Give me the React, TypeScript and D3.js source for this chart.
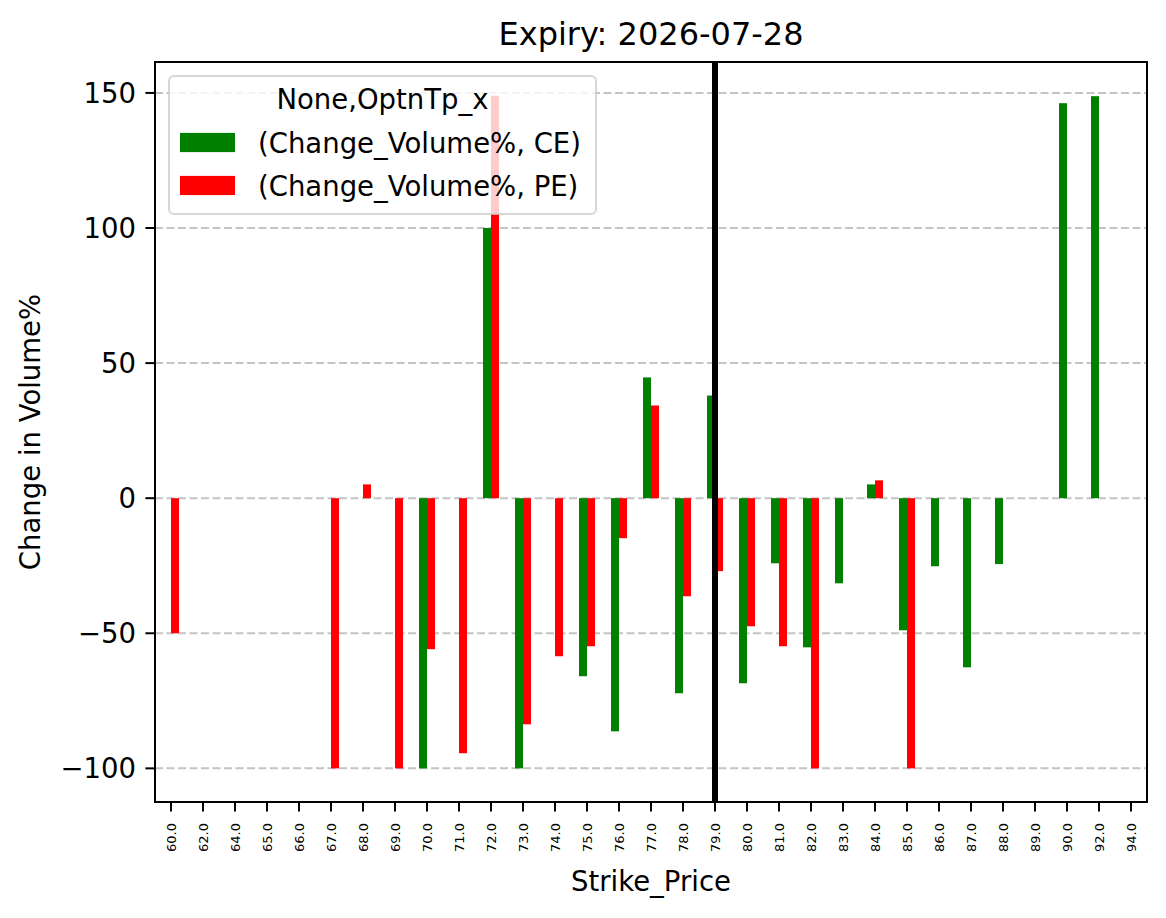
import * as d3 from "d3";
import React, { useEffect, useRef } from "react";

// strike prices shown on the x axis (categorical)
const strikes = [
  "60.0", "62.0", "64.0", "65.0", "66.0", "67.0", "68.0", "69.0", "70.0", "71.0",
  "72.0", "73.0", "74.0", "75.0", "76.0", "77.0", "78.0", "79.0", "80.0", "81.0",
  "82.0", "83.0", "84.0", "85.0", "86.0", "87.0", "88.0", "89.0", "90.0", "92.0", "94.0",
];

// Change_Volume% for calls (CE), null = no bar
const ceValues: (number | null)[] = [
  null, null, null, null, null, null, null, null, -100, null,
  100, -100, null, -65.9, -86.3, 44.7, -72.2, 38.0, -68.5, -24.1,
  -55.2, -31.5, 5.1, -48.9, -25.2, -62.6, -24.4, null, 146.2, 148.8, null,
];

// Change_Volume% for puts (PE)
const peValues: (number | null)[] = [
  -50, null, null, null, null, -100, 5.1, -100, -55.9, -94.4,
  149, -83.7, -58.5, -54.8, -14.8, 34.3, -36.3, -27.0, -47.4, -54.8,
  -100, null, 6.6, -100, null, null, null, null, null, null, null,
];

const yTicks = [-100, -50, 0, 50, 100, 150];
const atmStrike = "79.0";

const series = [
  { name: "(Change_Volume%, CE)", values: ceValues, color: "#008000", offset: -0.125 },
  { name: "(Change_Volume%, PE)", values: peValues, color: "#ff0000", offset: 0.125 },
];

const FONT = "DejaVu Sans, sans-serif";

export default function App() {
  const svgRef = useRef<SVGSVGElement>(null);

  useEffect(() => {
    const W = 1166;
    const H = 918;
    const margin = { top: 62, right: 19, bottom: 116, left: 155 };
    const x0 = margin.left;
    const x1 = W - margin.right;
    const y0 = margin.top;
    const y1 = H - margin.bottom;

    const svg = d3.select(svgRef.current).attr("width", W).attr("height", H);
    svg.selectAll("*").remove();

    const all = [...ceValues, ...peValues].filter((v) => v != null) as number[];
    const lo = d3.min(all)!;
    const hi = d3.max(all)!;
    const pad = (hi - lo) * 0.05;

    const x = d3.scaleLinear().domain([-0.5, strikes.length - 0.5]).range([x0, x1]);
    const y = d3.scaleLinear().domain([lo - pad, hi + pad]).range([y1, y0]);
    const barW = x(0.25) - x(0);

    svg.append("rect").attr("width", W).attr("height", H).attr("fill", "#fff");

    // horizontal grid (below bars)
    svg.append("g")
      .selectAll("line")
      .data(yTicks)
      .enter()
      .append("line")
      .attr("x1", x0)
      .attr("x2", x1)
      .attr("y1", (d) => y(d))
      .attr("y2", (d) => y(d))
      .attr("stroke", "#c4c4c4")
      .attr("stroke-width", 2)
      .attr("stroke-dasharray", "8,3.5");

    // bars
    series.forEach((s) => {
      svg.append("g")
        .selectAll("rect")
        .data(s.values.map((v, i) => ({ v, i })).filter((d) => d.v != null))
        .enter()
        .append("rect")
        .attr("x", (d) => x(d.i + s.offset) - barW / 2)
        .attr("width", barW)
        .attr("y", (d) => y(Math.max(0, d.v as number)))
        .attr("height", (d) => Math.abs(y(d.v as number) - y(0)))
        .attr("fill", s.color);
    });

    // ATM strike line
    const ai = strikes.indexOf(atmStrike);
    svg.append("line")
      .attr("x1", x(ai))
      .attr("x2", x(ai))
      .attr("y1", y0)
      .attr("y2", y1)
      .attr("stroke", "#000")
      .attr("stroke-width", 6);

    // frame
    svg.append("rect")
      .attr("x", x0)
      .attr("y", y0)
      .attr("width", x1 - x0)
      .attr("height", y1 - y0)
      .attr("fill", "none")
      .attr("stroke", "#000")
      .attr("stroke-width", 2);

    // y axis ticks + labels
    const yg = svg.append("g");
    yTicks.forEach((t) => {
      yg.append("line")
        .attr("x1", x0 - 9.6)
        .attr("x2", x0)
        .attr("y1", y(t))
        .attr("y2", y(t))
        .attr("stroke", "#000")
        .attr("stroke-width", 2);
      yg.append("text")
        .attr("x", x0 - 19)
        .attr("y", y(t))
        .attr("dy", "0.36em")
        .attr("text-anchor", "end")
        .attr("font-family", FONT)
        .attr("font-size", 27.5)
        .attr("fill", "#000")
        .text(`${t < 0 ? "\u2212" : ""}${Math.abs(t)}`);
    });

    // x axis ticks + rotated labels
    const xg = svg.append("g");
    strikes.forEach((s, i) => {
      xg.append("line")
        .attr("x1", x(i))
        .attr("x2", x(i))
        .attr("y1", y1)
        .attr("y2", y1 + 9.6)
        .attr("stroke", "#000")
        .attr("stroke-width", 2);
      const ty = y1 + 21;
      xg.append("text")
        .attr("x", x(i))
        .attr("y", ty)
        .attr("transform", `rotate(-90,${x(i)},${ty})`)
        .attr("dy", "0.36em")
        .attr("text-anchor", "end")
        .attr("font-family", FONT)
        .attr("font-size", 13)
        .attr("fill", "#000")
        .text(s);
    });

    // titles
    svg.append("text")
      .attr("x", (x0 + x1) / 2)
      .attr("y", 45)
      .attr("text-anchor", "middle")
      .attr("font-family", FONT)
      .attr("font-size", 32)
      .text("Expiry: 2026-07-28");

    svg.append("text")
      .attr("x", (x0 + x1) / 2)
      .attr("y", 891)
      .attr("text-anchor", "middle")
      .attr("font-family", FONT)
      .attr("font-size", 27.5)
      .text("Strike_Price");

    svg.append("text")
      .attr("transform", `translate(40,${(y0 + y1) / 2}) rotate(-90)`)
      .attr("text-anchor", "middle")
      .attr("font-family", FONT)
      .attr("font-size", 27.5)
      .text("Change in Volume%");

    // legend
    const lg = svg.append("g");
    lg.append("rect")
      .attr("x", 169)
      .attr("y", 76)
      .attr("width", 427)
      .attr("height", 138)
      .attr("rx", 5)
      .attr("fill", "#fff")
      .attr("fill-opacity", 0.8)
      .attr("stroke", "#cccccc")
      .attr("stroke-opacity", 0.8)
      .attr("stroke-width", 2);
    lg.append("text")
      .attr("x", 382.5)
      .attr("y", 109)
      .attr("text-anchor", "middle")
      .attr("font-family", FONT)
      .attr("font-size", 27.5)
      .text("None,OptnTp_x");
    series.forEach((s, k) => {
      const cy = 142.5 + k * 43;
      lg.append("rect")
        .attr("x", 180)
        .attr("y", cy - 9.6)
        .attr("width", 55)
        .attr("height", 19.2)
        .attr("fill", s.color);
      lg.append("text")
        .attr("x", 258)
        .attr("y", cy + 10)
        .attr("font-family", FONT)
        .attr("font-size", 27.5)
        .text(s.name);
    });
  }, []);

  return (
    <div style={{ position: "absolute", left: 0, top: 0 }}>
      <svg ref={svgRef}></svg>
    </div>
  );
}
